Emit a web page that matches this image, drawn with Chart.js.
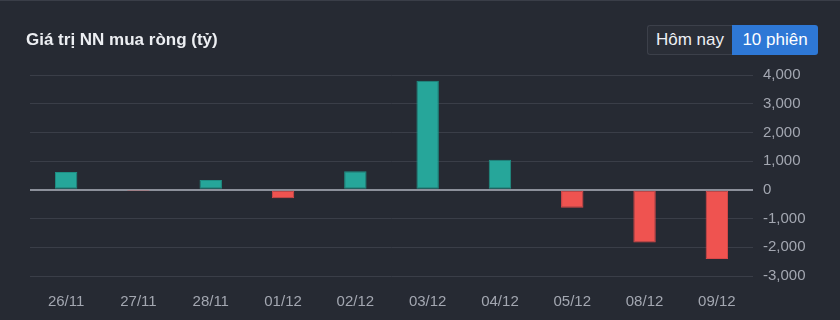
<!DOCTYPE html>
<html>
<head>
<meta charset="utf-8">
<script src="https://cdn.jsdelivr.net/npm/chart.js@4"></script>
<style>
  html, body { margin: 0; padding: 0; }
  body {
    width: 840px; height: 320px; overflow: hidden; position: relative;
    background: #262a33; font-family: Arial, "Liberation Sans", sans-serif;
    border-top: 1px solid #3a3e48; box-sizing: border-box;
  }
  #title {
    position: absolute; left: 26px; top: 29px;
    color: #eceef2; font-size: 17px; font-weight: bold; z-index: 2;
  }
  #tabs {
    position: absolute; left: 647px; top: 24px; height: 30px; display: flex; z-index: 2;
  }
  .tab {
    height: 30px; line-height: 30px; font-size: 17px; color: #eef0f4;
    box-sizing: border-box; text-align: center;
  }
  .tab.off { width: 85px; background: #2a2e37; border: 1px solid #3c404a; border-right: none; border-radius: 3px 0 0 3px; line-height: 28px; }
  .tab.on { width: 86px; background: #2e78d6; border-radius: 0 3px 3px 0; color: #fff; }
  #wrap { position: absolute; left: 0; top: 0; width: 840px; height: 320px; }
</style>
</head>
<body>
<div id="title">Giá trị NN mua ròng (tỷ)</div>
<div id="tabs"><div class="tab off">Hôm nay</div><div class="tab on">10 phiên</div></div>
<div id="wrap"><canvas id="chart"></canvas></div>
<script>
const labels = ['26/11', '27/11', '28/11', '01/12', '02/12', '03/12', '04/12', '05/12', '08/12', '09/12'];
const netBuy = [625, -12, 340, -290, 645, 3800, 1050, -620, -1830, -2410];
const yTicks = [4000, 3000, 2000, 1000, 0, -1000, -2000, -3000];

const UP = '#26a69a', DOWN = '#ef5350';

new Chart(document.getElementById('chart'), {
  type: 'bar',
  data: {
    labels: labels,
    datasets: [{
      data: netBuy,
      backgroundColor: netBuy.map(v => v >= 0 ? UP : DOWN),
      borderColor: netBuy.map(v => v >= 0 ? '#1e8f84' : '#d9494a'),
      borderWidth: 1,
      borderSkipped: false,
      barPercentage: 0.31,
      categoryPercentage: 1
    }]
  },
  options: {
    responsive: true,
    maintainAspectRatio: false,
    animation: false,
    layout: { padding: { top: 74, left: 30, right: 0, bottom: 0 } },
    plugins: { legend: { display: false }, tooltip: { enabled: false } },
    scales: {
      x: {
        grid: { display: false },
        border: { display: false },
        ticks: { color: '#a3a7b1', font: { family: 'Arial', size: 15 }, padding: 9, maxRotation: 0 },
        afterFit: (s) => { s.height = 45; }
      },
      y: {
        position: 'right',
        min: -3000,
        max: 4000,
        border: { display: false },
        grid: {
          drawTicks: false,
          color: (c) => c.tick && c.tick.value === 0 ? '#8c909b' : '#3a3e48',
          lineWidth: (c) => c.tick && c.tick.value === 0 ? 2 : 1
        },
        afterBuildTicks: (s) => { s.ticks = yTicks.map(v => ({ value: v })); },
        ticks: {
          color: '#a3a7b1',
          font: { family: 'Arial', size: 15 },
          padding: 10,
          callback: (v) => v.toLocaleString('en-US')
        },
        afterFit: (s) => { s.width = 87; }
      }
    }
  }
});
</script>
</body>
</html>
